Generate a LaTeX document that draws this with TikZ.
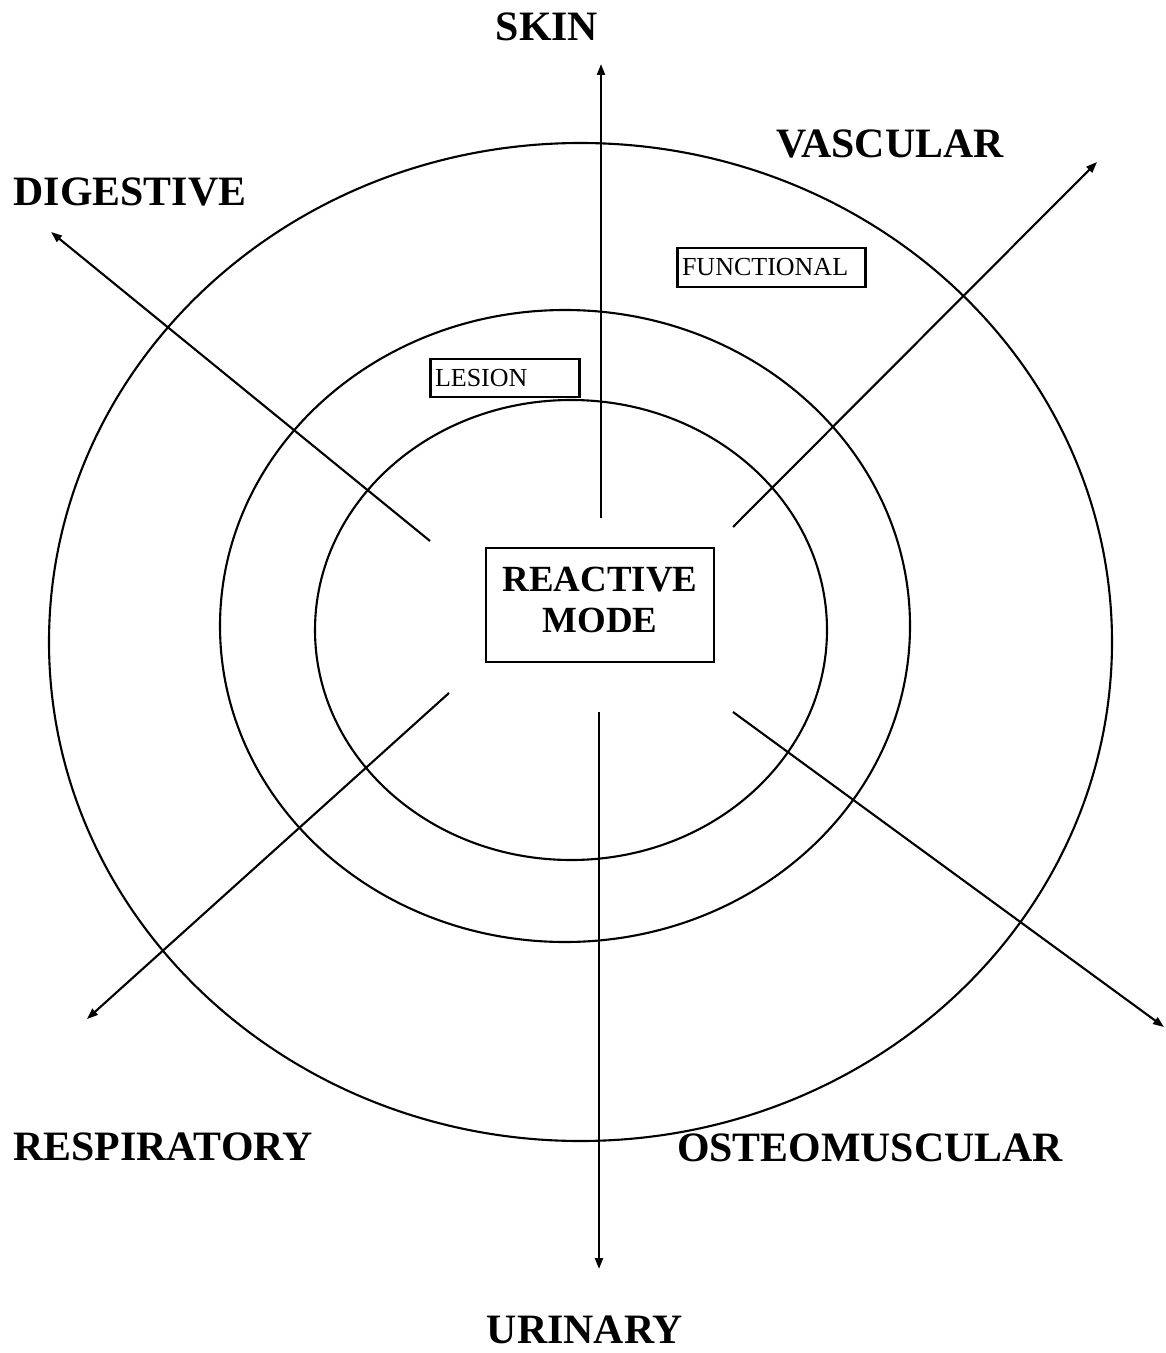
\documentclass[tikz,border=0pt]{standalone}
\usepackage{fontspec}
\setmainfont{Liberation Serif}
\usepackage{tikz}
\usetikzlibrary{arrows.meta,positioning}

\begin{document}
\begin{tikzpicture}[
  x=0.1mm,y=-0.1mm,
  ring/.style={line width=0.6pt},
  arrow/.style={-{Triangle[length=1.1mm,width=0.8mm]},line width=0.6pt},
  system/.style={font=\fontsize{11.9}{14}\selectfont\bfseries,inner sep=0pt},
  level/.style={rectangle,draw,line width=0.6pt,inner xsep=0.45mm,inner ysep=0pt,
                minimum height=3.85mm,align=left,font=\fontsize{7.4}{9}\selectfont},
  core/.style={rectangle,draw,line width=0.6pt,minimum width=22.8mm,inner ysep=0pt,
               text height=8.4mm,text depth=3mm,
               align=center,font=\fontsize{10.5}{11.4}\selectfont\bfseries},
]
  \useasboundingbox (0,0) rectangle (1165,1353);

  % rings
  \draw[ring] (580.5,642) ellipse [x radius=53.15mm,y radius=49.9mm];
  \draw[ring] (565,626) ellipse [x radius=34.5mm,y radius=31.6mm];
  \draw[ring] (571,630) ellipse [x radius=25.6mm,y radius=23mm];

  \node[core] (mode) at (600,605) {REACTIVE\\MODE};
  \node[level,text width=17.9mm] (func) at (771.5,267.5) {FUNCTIONAL};
  \node[level,text width=14mm] (lesion) at (505,378) {LESION};

  % start and end points of the arrows
  \coordinate (skinA) at (601,518);   \coordinate (skinB) at (601,64);
  \coordinate (uriA) at (599,712);    \coordinate (uriB) at (599,1269);
  \coordinate (digA) at (430,541);    \coordinate (digB) at (51,232);
  \coordinate (vasA) at (733,527);    \coordinate (vasB) at (1097,162);
  \coordinate (resA) at (449,693);    \coordinate (resB) at (87,1019);
  \coordinate (osteoA) at (733,712);  \coordinate (osteoB) at (1164,1027);

  \draw[arrow] (skinA) -- (skinB);
  \draw[arrow] (uriA) -- (uriB);
  \draw[arrow] (digA) -- (digB);
  \draw[arrow] (vasA) -- (vasB);
  \draw[arrow] (resA) -- (resB);
  \draw[arrow] (osteoA) -- (osteoB);

  \node[system] (skin) at (547,27) {SKIN};
  \node[system] (vascular) at (890,144) {VASCULAR};
  \node[system] (digestive) at (130,192) {DIGESTIVE};
  \node[system] (respiratory) at (163,1147) {RESPIRATORY};
  \node[system] (osteo) at (870,1148) {OSTEOMUSCULAR};
  \node[system] (urinary) at (585,1330) {URINARY};
\end{tikzpicture}
\end{document}
